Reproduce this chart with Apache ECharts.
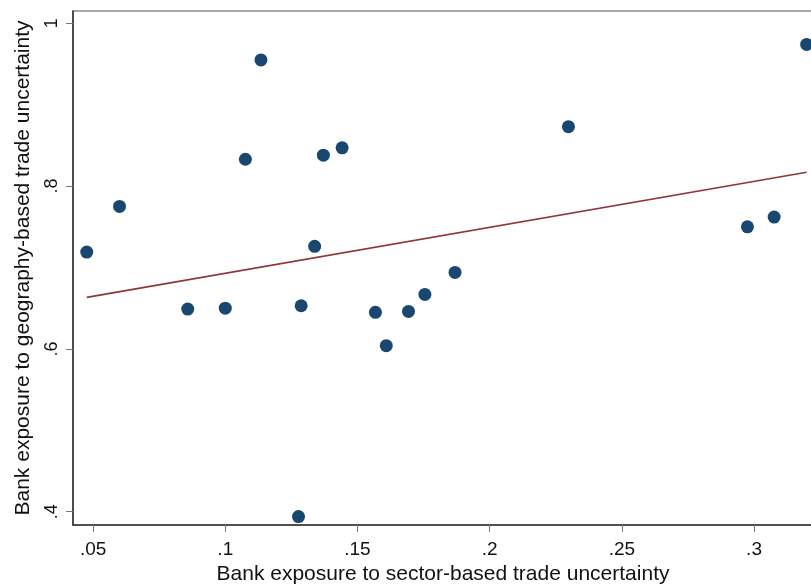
<!DOCTYPE html>
<html>
<head>
<meta charset="utf-8">
<script src="https://cdn.jsdelivr.net/npm/echarts@6/dist/echarts.min.js"></script>
<style>html,body{margin:0;padding:0;background:#fff;}#c{width:811px;height:585px;}</style>
</head>
<body>
<div id="c"></div>
<script>
var sectorX = [0.0476,0.0600,0.0858,0.1000,0.1076,0.1135,0.1277,0.1287,0.1338,0.1371,0.1442,0.1568,0.1609,0.1693,0.1755,0.1869,0.2298,0.2975,0.3076,0.3199];
var geoY    = [0.719,0.775,0.649,0.650,0.833,0.955,0.394,0.653,0.726,0.838,0.847,0.645,0.604,0.646,0.667,0.694,0.873,0.750,0.762,0.974];
var fitX = [0.0476, 0.3199];
var fitY = [0.6633, 0.8170];
var xTicks = [0.05,0.1,0.15,0.2,0.25,0.3];
var xTickLabels = ['.05','.1','.15','.2','.25','.3'];
var yTicks = [0.4,0.6,0.8,1];
var yTickLabels = ['.4','.6','.8','1'];

var pts = sectorX.map(function(x,i){return [x, geoY[i]];});
var fit = fitX.map(function(x,i){return [x, fitY[i]];});
function lab(vals, labels){ return function(v){ for(var i=0;i<vals.length;i++){ if(Math.abs(vals[i]-v)<1e-9) return labels[i]; } return ''; }; }

var chart = echarts.init(document.getElementById('c'), null, {renderer:'canvas'});
chart.setOption({
  animation:false,
  textStyle:{fontFamily:'Liberation Sans, Arial, sans-serif'},
  grid:{left:73, top:11, right:-2, bottom:60, containLabel:false, outerBoundsMode:'none', show:true, borderColor:'#555', borderWidth:1.2, backgroundColor:'#fff'},
  xAxis:{
    type:'value', min:0.0424, max:0.3223,
    name:'Bank exposure to sector-based trade uncertainty', nameLocation:'middle', nameGap:34,
    nameTextStyle:{fontSize:21, color:'#111'},
    axisLine:{show:true, lineStyle:{color:'#333', width:1.5}},
    axisTick:{show:true, length:7, lineStyle:{color:'#777'}, customValues:xTicks},
    axisLabel:{fontSize:19, color:'#111', margin:15, customValues:xTicks, formatter:lab(xTicks,xTickLabels)},
    splitLine:{show:false}
  },
  yAxis:{
    type:'value', min:0.3837, max:1.0151,
    name:'Bank exposure to geography-based trade uncertainty', nameLocation:'middle', nameGap:39,
    nameTextStyle:{fontSize:21, color:'#111'},
    axisLine:{show:true, lineStyle:{color:'#333', width:1.5}},
    axisTick:{show:true, length:7, lineStyle:{color:'#777'}, customValues:yTicks},
    axisLabel:{fontSize:18, color:'#111', margin:12, rotate:90, customValues:yTicks, formatter:lab(yTicks,yTickLabels)},
    splitLine:{show:false}
  },
  series:[
    {type:'scatter', data:pts, symbol:'circle', symbolSize:13, itemStyle:{color:'#1a476f', opacity:1}, z:3},
    {type:'line', data:fit, symbol:'none', lineStyle:{color:'#90353b', width:1.6}, z:2}
  ]
});
</script>
</body>
</html>
